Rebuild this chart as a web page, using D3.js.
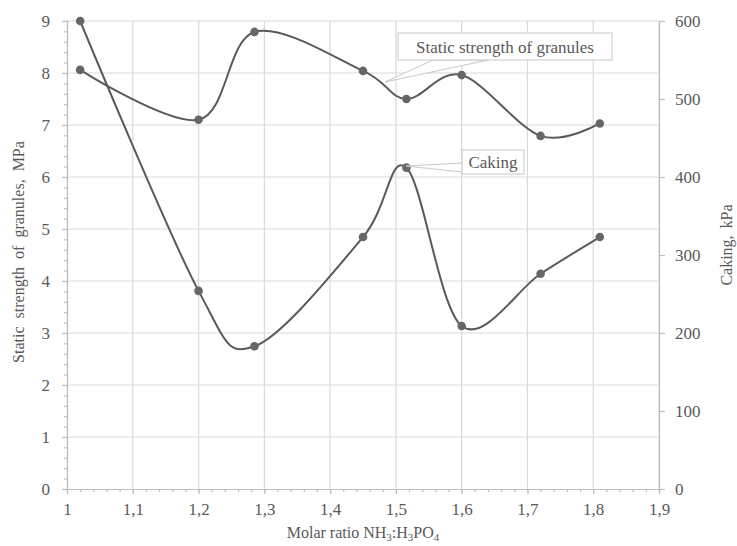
<!DOCTYPE html>
<html>
<head>
<meta charset="utf-8">
<script src="https://cdn.jsdelivr.net/npm/d3@7"></script>
<style>
  body { margin: 0; background: #fff; }
  svg text { font-family: "Liberation Serif", "DejaVu Serif", serif !important; fill: #595959; }
</style>
</head>
<body>
<svg id="chart" width="737" height="546"></svg>
<script>
// values
var ratio    = [1.02, 1.2, 1.285, 1.45, 1.516, 1.6, 1.72, 1.81];
var strength = [8.06, 7.1, 8.79, 8.04, 7.5, 7.96, 6.79, 7.03];   // MPa, left axis
var caking   = [600, 254, 183, 323, 412, 209, 276, 323];          // kPa, right axis
var xTicks   = [1, 1.1, 1.2, 1.3, 1.4, 1.5, 1.6, 1.7, 1.8, 1.9];
var yTicks   = [0, 1, 2, 3, 4, 5, 6, 7, 8, 9];
var y2Ticks  = [0, 100, 200, 300, 400, 500, 600];

var margin = {top: 21, right: 78, bottom: 57, left: 67},
    width = 737 - margin.left - margin.right,
    height = 546 - margin.top - margin.bottom;

var serif = "Liberation Serif";
var svg = d3.select("svg#chart");
var g = svg.append("g").attr("transform", "translate(" + margin.left + "," + margin.top + ")");

var x = d3.scaleLinear().domain([1, 1.9]).range([0, width]),
    y = d3.scaleLinear().domain([0, 9]).range([height, 0]),
    y2 = d3.scaleLinear().domain([0, 600]).range([height, 0]);

var comma = function(d) { return (Math.round(d * 10) / 10).toString().replace(".", ","); };

// grid
g.append("g").selectAll("line").data(xTicks.slice(1)).enter().append("line")
  .attr("x1", x).attr("x2", x).attr("y1", 0).attr("y2", height)
  .attr("stroke", "#d9d9d9").attr("stroke-width", 1.2);
g.append("g").selectAll("line").data(yTicks.slice(1)).enter().append("line")
  .attr("x1", 0).attr("x2", width).attr("y1", y).attr("y2", y)
  .attr("stroke", "#d9d9d9").attr("stroke-width", 1.2);

// axes
function styleAxis(sel) {
  sel.attr("font-family", serif).attr("font-size", 17);
  sel.select(".domain").attr("stroke", "#bfbfbf").attr("stroke-width", 1.2);
  sel.selectAll(".tick line").attr("stroke", "#bfbfbf").attr("stroke-width", 1.2);
  sel.selectAll("text").attr("fill", "#595959");
}

var minorY = g.append("g").call(d3.axisLeft(y).tickValues(d3.range(0, 9.001, 0.2)).tickSize(3).tickFormat(""));
styleAxis(minorY);
var minorX = g.append("g").attr("transform", "translate(0," + height + ")")
  .call(d3.axisBottom(x).tickValues(d3.range(1, 1.9001, 0.02)).tickSize(3).tickFormat(""));
styleAxis(minorX);

var yAxis = g.append("g").call(d3.axisLeft(y).tickValues(yTicks).tickSize(5).tickPadding(12).tickSizeOuter(0));
styleAxis(yAxis);
var xAxis = g.append("g").attr("transform", "translate(0," + height + ")")
  .call(d3.axisBottom(x).tickValues(xTicks).tickSize(5).tickPadding(9).tickFormat(comma).tickSizeOuter(0));
styleAxis(xAxis);
var y2Axis = g.append("g").attr("transform", "translate(" + width + ",0)")
  .call(d3.axisRight(y2).tickValues(y2Ticks).tickSize(6).tickPadding(10).tickSizeOuter(0));
styleAxis(y2Axis);

// series
var line1 = d3.line().x(function(d, i) { return x(ratio[i]); }).y(function(d) { return y(d); })
  .curve(d3.curveCardinal.tension(0));
var line2 = d3.line().x(function(d, i) { return x(ratio[i]); }).y(function(d) { return y2(d); })
  .curve(d3.curveCardinal.tension(0));

g.append("path").datum(strength).attr("d", line1)
  .attr("fill", "none").attr("stroke", "#5a5a5a").attr("stroke-width", 2);
g.append("path").datum(caking).attr("d", line2)
  .attr("fill", "none").attr("stroke", "#5a5a5a").attr("stroke-width", 2);

g.append("g").selectAll("circle").data(strength).enter().append("circle")
  .attr("cx", function(d, i) { return x(ratio[i]); }).attr("cy", y)
  .attr("r", 4.3).attr("fill", "#666");
g.append("g").selectAll("circle").data(caking).enter().append("circle")
  .attr("cx", function(d, i) { return x(ratio[i]); }).attr("cy", y2)
  .attr("r", 4.3).attr("fill", "#666");

// callouts (in page coordinates)
function callout(box, tip, base, label) {
  svg.append("polygon")
    .attr("points", [tip, base[0], base[1]].map(function(p) { return p.join(","); }).join(" "))
    .attr("fill", "#fff").attr("stroke", "#c8c8c8").attr("stroke-width", 1);
  svg.append("rect").attr("x", box[0]).attr("y", box[1]).attr("width", box[2]).attr("height", box[3])
    .attr("fill", "#fff").attr("stroke", "#c8c8c8").attr("stroke-width", 1);
  svg.append("text").attr("x", box[0] + box[2] / 2).attr("y", box[1] + box[3] / 2 + 6)
    .attr("text-anchor", "middle").attr("font-family", serif).attr("font-size", 17).text(label);
}
callout([398, 33, 214, 27], [385, 82], [[433, 60], [488, 60]], "Static strength of granules");
callout([462, 150, 62, 24], [406, 166], [[462, 163], [462, 172]], "Caking");

// axis titles
svg.append("text").attr("transform", "translate(24,252) rotate(-90)")
  .attr("text-anchor", "middle").attr("font-family", serif).attr("font-size", 16)
  .style("word-spacing", "4px")
  .text("Static strength of granules, MPa");
svg.append("text").attr("transform", "translate(732,245) rotate(-90)")
  .attr("text-anchor", "middle").attr("font-family", serif).attr("font-size", 16)
  .style("word-spacing", "3px")
  .text("Caking, kPa");

var xt = svg.append("text").attr("x", margin.left + width / 2).attr("y", 538)
  .attr("text-anchor", "middle").attr("font-family", serif).attr("font-size", 16);
xt.append("tspan").text("Molar ratio NH");
xt.append("tspan").attr("dy", 3).attr("font-size", 11).text("3");
xt.append("tspan").attr("dy", -3).text(":H");
xt.append("tspan").attr("dy", 3).attr("font-size", 11).text("3");
xt.append("tspan").attr("dy", -3).text("PO");
xt.append("tspan").attr("dy", 3).attr("font-size", 11).text("4");
</script>
</body>
</html>
